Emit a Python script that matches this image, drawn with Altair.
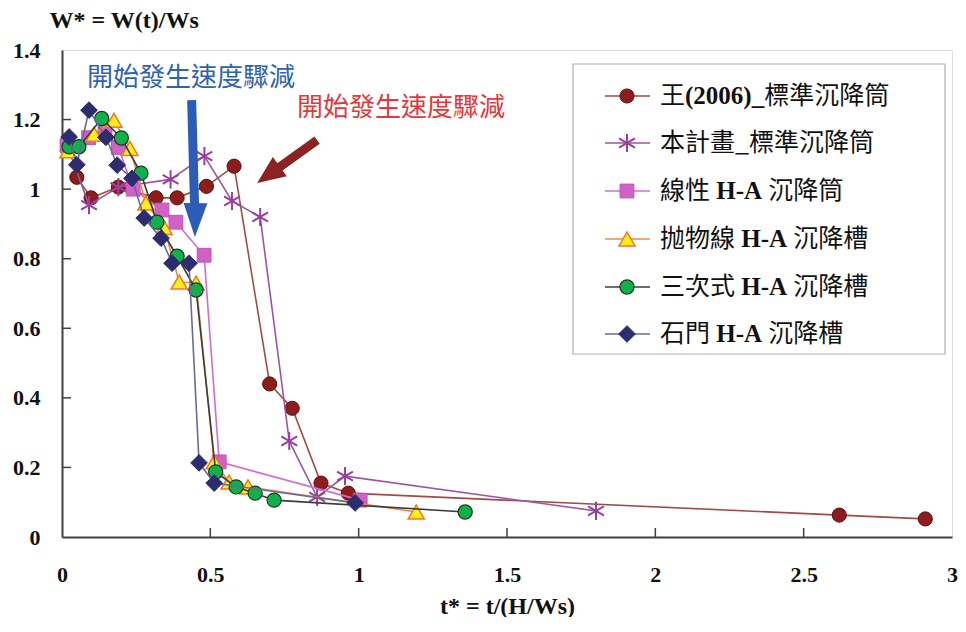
import altair as alt
import pandas as pd

# ---------------- data ----------------
series_names = ["王(2006)_標準沉降筒", "本計畫_標準沉降筒", "線性 H-A 沉降筒",
                "抛物線 H-A 沉降槽", "三次式 H-A 沉降槽", "石門 H-A 沉降槽"]

wang_t = [0.05, 0.098, 0.19, 0.317, 0.388, 0.487, 0.58, 0.70, 0.776, 0.873, 0.965, 2.62, 2.91]
wang_w = [1.034, 0.975, 1.006, 0.975, 0.975, 1.008, 1.066, 0.44, 0.37, 0.155, 0.126, 0.063, 0.052]

plan_t = [0.02, 0.091, 0.19, 0.366, 0.48, 0.573, 0.668, 0.766, 0.86, 0.954, 1.80]
plan_w = [1.12, 0.954, 1.006, 1.028, 1.095, 0.966, 0.92, 0.276, 0.115, 0.175, 0.075]

lin_t = [0.017, 0.09, 0.145, 0.19, 0.24, 0.337, 0.384, 0.479, 0.53, 1.005]
lin_w = [1.126, 1.148, 1.17, 1.12, 1.0, 0.94, 0.905, 0.81, 0.216, 0.106]

para_t = [0.02, 0.108, 0.175, 0.229, 0.283, 0.344, 0.395, 0.452, 0.513, 0.563, 0.627, 1.194]
para_w = [1.11, 1.158, 1.198, 1.117, 0.96, 0.89, 0.733, 0.73, 0.216, 0.158, 0.144, 0.072]

cub_t = [0.024, 0.057, 0.134, 0.2, 0.266, 0.32, 0.388, 0.452, 0.518, 0.587, 0.651, 0.715, 1.359]
cub_w = [1.122, 1.122, 1.203, 1.147, 1.046, 0.905, 0.807, 0.71, 0.187, 0.144, 0.126, 0.106, 0.072]

shm_t = [0.024, 0.05, 0.091, 0.148, 0.186, 0.236, 0.277, 0.334, 0.371, 0.428, 0.462, 0.513, 0.988]
shm_w = [1.15, 1.07, 1.227, 1.149, 1.069, 1.031, 0.917, 0.859, 0.787, 0.787, 0.213, 0.155, 0.098]

x_ticks = [0, 0.5, 1, 1.5, 2, 2.5, 3]
y_ticks = [0, 0.2, 0.4, 0.6, 0.8, 1, 1.2, 1.4]

note_text = "開始發生速度驟減"
note_t = [0.435, 1.143]
note_w = [1.319, 1.233]

# arrows: shaft start/end and head position (data units)
blue_arrow = dict(t1=0.437, w1=1.256, t2=0.447, w2=0.95, th=0.449, wh=0.911)
red_arrow = dict(t1=0.860, w1=1.141, t2=0.705, w2=1.046, th=0.696, wh=1.041)

all_t = [wang_t, plan_t, lin_t, para_t, cub_t, shm_t]
all_w = [wang_w, plan_w, lin_w, para_w, cub_w, shm_w]

rows = []
for name, ts, ws in zip(series_names, all_t, all_w):
    for i, (t, w) in enumerate(zip(ts, ws)):
        rows.append({"series": name, "t": t, "w": w, "i": i})
df = pd.DataFrame(rows)

# ---------------- styles ----------------
W, H = 890, 487
PAD_L, PAD_T = 54, 42
ASTER = "M0,-1L0,1M-0.87,-0.5L0.87,0.5M-0.87,0.5L0.87,-0.5"
styles = [
    dict(line="#a24a44", shape="circle", size=200, filled=True, fill="#8c1d1d", stroke="#5e1010", sw=1),
    dict(line="#9a55a2", shape=ASTER, size=330, filled=False, fill="#9a3f9f", stroke="#9a3f9f", sw=2),
    dict(line="#d46cd0", shape="square", size=190, filled=True, fill="#d062c6", stroke="#c050b8", sw=1),
    dict(line="#f08a40", shape="triangle-up", size=260, filled=True, fill="#ffee1a", stroke="#f07828", sw=1.5),
    dict(line="#3c3c3c", shape="circle", size=200, filled=True, fill="#12b04a", stroke="#1c3a1c", sw=1.2),
    dict(line="#6a6a9a", shape="diamond", size=280, filled=True, fill="#2c2c6e", stroke="#2c2c6e", sw=1),
]

xs = alt.Scale(domain=[0, 3], nice=False, zero=False)
ys = alt.Scale(domain=[0, 1.4], nice=False, zero=False)


def point_mark(st):
    if st["filled"]:
        return alt.MarkDef(type="point", shape=st["shape"], size=st["size"], filled=True,
                           fill=st["fill"], stroke=st["stroke"], strokeWidth=st["sw"], opacity=1)
    return alt.MarkDef(type="point", shape=st["shape"], size=st["size"], filled=False,
                       stroke=st["stroke"], strokeWidth=st["sw"], opacity=1)


SERIF = "Liberation Serif"
CJK = "Noto Sans CJK TC"

layers = []

# inward ticks
yt = pd.DataFrame({"v": y_ticks[1:-1]})
xt = pd.DataFrame({"v": x_ticks[1:-1]})
layers.append(alt.Chart(yt).mark_rule(color="#404040", strokeWidth=1.5).encode(
    y=alt.Y("v:Q", scale=ys), x=alt.value(0), x2=alt.value(9)))
layers.append(alt.Chart(xt).mark_rule(color="#404040", strokeWidth=1.5).encode(
    x=alt.X("v:Q", scale=xs), y=alt.value(H), y2=alt.value(H - 9)))

# series
for i, (name, st) in enumerate(zip(series_names, styles)):
    base = alt.Chart(df).transform_filter(alt.datum.series == name)
    enc = dict(
        x=alt.X("t:Q", scale=xs,
                axis=alt.Axis(values=x_ticks, format="~g", title="t* = t/(H/Ws)",
                              labelFont=SERIF, labelFontWeight="bold", labelFontSize=22,
                              labelColor="#111", ticks=False, grid=False, domainColor="#404040",
                              domainWidth=2, labelPadding=27, labelFlush=False,
                              titleFont=SERIF, titleFontWeight="bold", titleFontSize=24,
                              titleColor="#111", titlePadding=9)),
        y=alt.Y("w:Q", scale=ys,
                axis=alt.Axis(values=y_ticks, format="~g", title="W* = W(t)/Ws",
                              labelFont=SERIF, labelFontWeight="bold", labelFontSize=22,
                              labelColor="#111", ticks=False, grid=False, domainColor="#404040",
                              domainWidth=2, labelPadding=22, labelFlush=False,
                              titleFont=SERIF, titleFontWeight="bold", titleFontSize=24,
                              titleColor="#111", titleAngle=0, titleAlign="left",
                              titleBaseline="middle", titleX=-13, titleY=-30)),
        order=alt.Order("i:Q"),
    )
    layers.append(base.mark_line(color=st["line"], strokeWidth=1.6).encode(**enc))
    layers.append(base.mark_point().encode(x="t:Q", y="w:Q").properties(mark=point_mark(st)))

# annotations
notes = pd.DataFrame({"t": note_t, "w": note_w, "c": ["#2e62b6", "#e8363a"], "txt": [note_text, note_text]})
layers.append(alt.Chart(notes).mark_text(font=CJK, fontSize=26, align="center", baseline="middle").encode(
    x=alt.X("t:Q", scale=xs), y=alt.Y("w:Q", scale=ys), text="txt:N", color=alt.Color("c:N", scale=None)))

for arr, col, path, sz, ang in [
    (blue_arrow, "#2a5cb8", "M-0.7,-1L0.7,-1L0,1Z", 1156, 1),
    (red_arrow, "#8c2222", "M-0.85,-1L0.85,-1L0,1Z", 784, 54),
]:
    a = pd.DataFrame([arr])
    layers.append(alt.Chart(a).mark_rule(color=col, strokeWidth=9).encode(
        x=alt.X("t1:Q", scale=xs), y=alt.Y("w1:Q", scale=ys), x2="t2:Q", y2="w2:Q"))
    layers.append(alt.Chart(a).mark_point(shape=path, size=sz, filled=True, fill=col, opacity=1,
                                          strokeWidth=0, angle=ang).encode(
        x=alt.X("th:Q", scale=xs), y=alt.Y("wh:Q", scale=ys)))

# ---------------- manual legend (pixel layout inside plot area) ----------------
ox, oy = 8 + PAD_L, 8 + PAD_T  # plot origin in page pixels
box = pd.DataFrame([{"x": 573 - ox, "x2": 945 - ox, "y": 64 - oy, "y2": 354 - oy}])
layers.append(alt.Chart(box).mark_rect(fill="white", stroke="#b0b0b0", strokeWidth=1.2).encode(
    x=alt.X("x:Q", scale=None), x2="x2:Q", y=alt.Y("y:Q", scale=None), y2="y2:Q"))

entry_y = [96, 143, 191, 239, 287, 334]
FS = 25
lat_w = {"(": 0.333, ")": 0.333, "_": 0.5, "H": 0.778, "-": 0.333, "A": 0.722}
segments = [
    [("c", "王"), ("l", "(2006)_"), ("c", "標準沉降筒")],
    [("c", "本計畫_標準沉降筒")],
    [("c", "線性"), ("s", ""), ("l", "H-A"), ("s", ""), ("c", "沉降筒")],
    [("c", "抛物線"), ("s", ""), ("l", "H-A"), ("s", ""), ("c", "沉降槽")],
    [("c", "三次式"), ("s", ""), ("l", "H-A"), ("s", ""), ("c", "沉降槽")],
    [("c", "石門"), ("s", ""), ("l", "H-A"), ("s", ""), ("c", "沉降槽")],
]
seg_rows = []
for ey, segs in zip(entry_y, segments):
    x = 660 - ox
    for kind, txt in segs:
        if kind == "s":
            x += 0.25 * FS
            continue
        seg_rows.append({"x": x, "y": ey - oy, "txt": txt, "kind": kind})
        if kind == "c":
            x += sum(0.5 * FS if ch == "_" else FS for ch in txt)
        else:
            x += sum(lat_w.get(ch, 0.5) * FS for ch in txt)
segdf = pd.DataFrame(seg_rows)
layers.append(alt.Chart(segdf).transform_filter(alt.datum.kind == "c").mark_text(
    font=CJK, fontSize=FS, align="left", baseline="middle", color="#111").encode(
    x=alt.X("x:Q", scale=None), y=alt.Y("y:Q", scale=None), text="txt:N"))
layers.append(alt.Chart(segdf).transform_filter(alt.datum.kind == "l").mark_text(
    font=SERIF, fontWeight="bold", fontSize=FS, align="left", baseline="middle", color="#111").encode(
    x=alt.X("x:Q", scale=None), y=alt.Y("y:Q", scale=None), text="txt:N"))

for ey, st in zip(entry_y, styles):
    sym = pd.DataFrame([{"x1": 605 - ox, "x2": 650 - ox, "xm": 627 - ox, "y": ey - oy}])
    layers.append(alt.Chart(sym).mark_rule(color=st["line"], strokeWidth=1.6).encode(
        x=alt.X("x1:Q", scale=None), x2="x2:Q", y=alt.Y("y:Q", scale=None)))
    layers.append(alt.Chart(sym).mark_point().encode(
        x=alt.X("xm:Q", scale=None), y=alt.Y("y:Q", scale=None)).properties(mark=point_mark(st)))

chart = alt.layer(*layers).properties(
    width=W, height=H,
    autosize=alt.AutoSizeParams(type="none"),
    padding={"left": PAD_L, "top": PAD_T, "right": 6, "bottom": 80},
).configure_view(stroke="#8a8a8a", strokeWidth=1.5).configure(background="white")

chart.save("out.html", embed_options={"renderer": "svg", "actions": False})
